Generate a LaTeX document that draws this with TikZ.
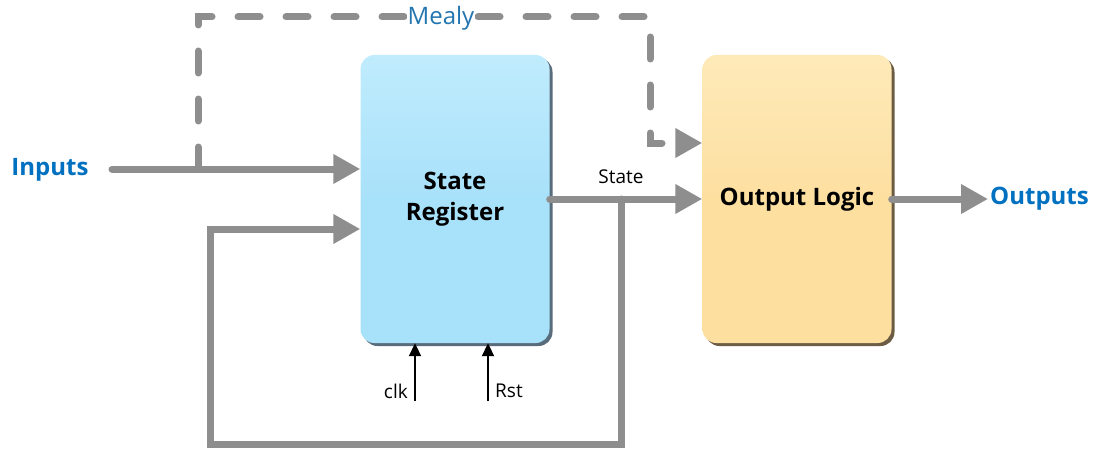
\documentclass[tikz,border=0pt]{standalone}
\usepackage{fontspec}
\setmainfont{Open Sans}
\usetikzlibrary{arrows.meta,shadows}
\definecolor{lineg}{RGB}{142,142,142}
\definecolor{inblue}{RGB}{0,112,192}
\definecolor{mealyblue}{RGB}{36,118,176}
\definecolor{regfill}{RGB}{168,225,250}
\definecolor{regtop}{RGB}{192,236,253}
\definecolor{regshadow}{RGB}{70,92,110}
\definecolor{outfill}{RGB}{253,223,160}
\definecolor{outtop}{RGB}{254,234,185}
\definecolor{outshadow}{RGB}{92,74,48}
\begin{document}
\begin{tikzpicture}[x=1pt,y=-1pt,
  blockbox/.style={rounded corners=14pt, minimum width=189pt, minimum height=288pt,
    inner sep=0pt, align=center, font=\fontsize{24}{31}\selectfont\bfseries},
  gline/.style={draw=lineg, line width=7pt, line cap=round},
  garrow/.style={gline, -{Triangle[length=27pt,width=28pt]}},
  gdash/.style={garrow, dash pattern=on 22pt off 26pt},
  barrow/.style={draw=black, line width=2pt, -{Triangle[length=13pt,width=12pt]}},
  bluelabel/.style={text=inblue, font=\fontsize{24}{28}\selectfont\bfseries, inner sep=2pt},
  smalllabel/.style={text=black, font=\fontsize{19}{22}\selectfont, inner sep=1pt}]
\useasboundingbox (0,0) rectangle (1097,452);
% blocks
\node[blockbox, top color=regtop, bottom color=regfill, middle color=regfill,
  drop shadow={shadow xshift=3pt, shadow yshift=-3pt, fill=regshadow, opacity=0.9}]
  (sr) at (455,199) {State\\Register};
\node[blockbox, top color=outtop, bottom color=outfill, middle color=outfill,
  drop shadow={shadow xshift=3pt, shadow yshift=-3pt, fill=outshadow, opacity=0.9}]
  (ol) at (797,199) {Output Logic};
% labels
\node[bluelabel] (inputs) at (50,170) {Inputs};
\node[bluelabel, anchor=west] (outputs) at (988,199) {Outputs};
\node[smalllabel] (statelbl) at (621,177) {State};
\node[smalllabel, anchor=east] (clklbl) at (409,391) {clk};
\node[smalllabel, anchor=west] (rstlbl) at (494,391) {Rst};
% coordinates
\coordinate (inS) at (112,169);
\coordinate (dA) at (198,169);
\coordinate (dB) at (198,17);
\coordinate (dC) at (650,17);
\coordinate (dD) at (650,143);
\coordinate (fbA) at (621,199);
\coordinate (fbB) at (621,444);
\coordinate (fbC) at (210,444);
\coordinate (fbD) at (210,229);
\coordinate (clkS) at (415,401);
\coordinate (rstS) at (488,401);
% connectors
\draw[garrow] (inS) -- (sr.west |- inS);
\draw[gdash] (dA) -- (dB) -- (dC) -- (dD) -- (ol.west |- dD);
\node[text=mealyblue, fill=white, inner sep=1pt, font=\fontsize{24}{28}\selectfont] (mealy) at (441,18) {Mealy};
\draw[garrow] (sr.east) -- (ol.west);
\draw[garrow] (fbA) -- (fbB) -- (fbC) -- (fbD) -- (sr.west |- fbD);
\draw[garrow] (ol.east) -- (outputs.west);
\draw[barrow] (clkS) -- (clkS |- sr.south);
\draw[barrow] (rstS) -- (rstS |- sr.south);
\end{tikzpicture}
\end{document}
